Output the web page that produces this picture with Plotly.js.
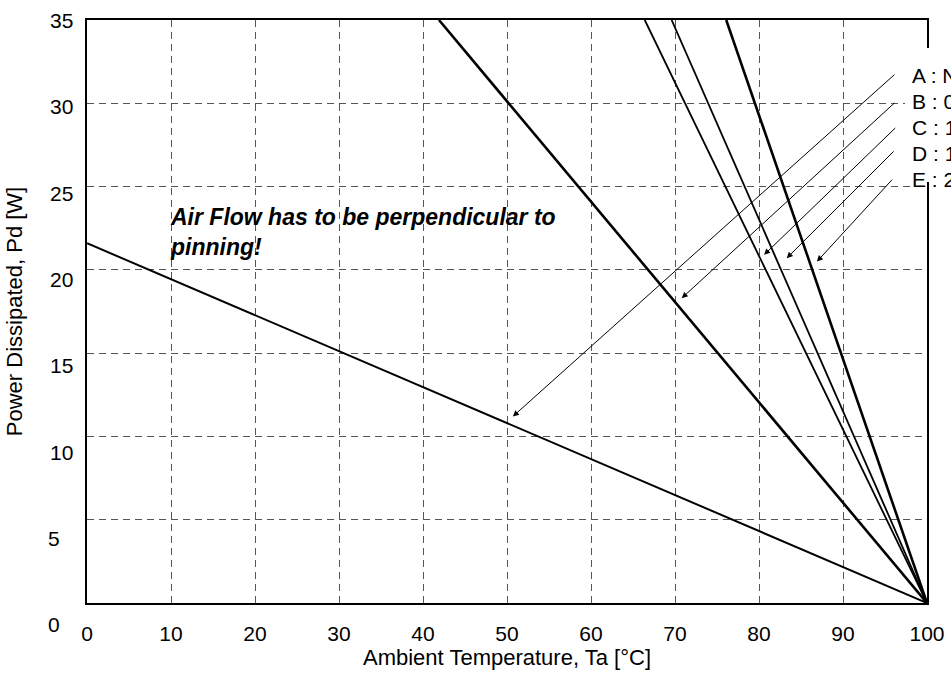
<!DOCTYPE html>
<html><head><meta charset="utf-8">
<script src="https://cdn.plot.ly/plotly-3.0.1.min.js"></script>
<style>body{margin:0;background:#fff}</style>
</head><body><div id="chart" style="width:951px;height:675px"></div>
<script>
// ---- data ----
const curveNames = ['A', 'B', 'C', 'D', 'E'];
const taA = [0, 100];    const pdA = [21.6, 0];
const taB = [41.9, 100]; const pdB = [35, 0];
const taC = [66.4, 100]; const pdC = [35, 0];
const taD = [69.6, 100]; const pdD = [35, 0];
const taE = [76.1, 100]; const pdE = [35, 0];
const legendLabels = ['A : N', 'B : 0', 'C : 1', 'D : 1', 'E : 2'];
const xTickValues = [0, 10, 20, 30, 40, 50, 60, 70, 80, 90, 100];
const yTickLabels = [0, 5, 10, 15, 20, 25, 30, 35];
const arrowHeadTa = [50.7, 70.8, 80.6, 83.3, 86.9];
const arrowHeadPd = [11.2, 18.3, 20.9, 20.7, 20.5];
const arrowTailTa = [96.3, 96.3, 96.4, 96.2, 96.0];
const arrowTailPd = [31.8, 30.1, 28.6, 27.2, 25.5];
const noteLines = ['Air Flow has to be perpendicular to', 'pinning!'];
const noteTa = 9.6, notePd = 22.3;

// ---- styling ----
const FONT = 'Liberation Sans, Arial, sans-serif';
const series = [[taA, pdA], [taB, pdB], [taC, pdC], [taD, pdD], [taE, pdE]];
const widths = [2, 2.6, 1.8, 1.8, 2.6];
const traces = series.map((s, i) => ({
  x: s[0], y: s[1], mode: 'lines', name: curveNames[i],
  line: {color: '#000', width: widths[i]}, hoverinfo: 'skip', cliponaxis: true
}));

const annotations = [];
// y tick labels (drawn slightly off-grid as in the reference)
yTickLabels.forEach(v => {
  annotations.push({
    xref: 'paper', yref: 'y', x: 0, y: v, xanchor: 'center', yanchor: 'middle',
    xshift: String(v).length === 1 ? -33 : -26,
    yshift: -(35 - v) * 0.614 - 0.5,
    text: String(v), showarrow: false, font: {family: FONT, size: 21, color: '#000'}
  });
});
// legend-like labels on the right
legendLabels.forEach((t, i) => {
  annotations.push({
    xref: 'paper', yref: 'paper', x: 1, y: 1, xanchor: 'left', yanchor: 'middle',
    xshift: -17, yshift: -55.5 - i * 26, text: t, showarrow: false,
    font: {family: FONT, size: 21, color: '#000'}
  });
});
// arrows
arrowHeadTa.forEach((h, i) => {
  annotations.push({
    xref: 'x', yref: 'y', axref: 'x', ayref: 'y',
    x: h, y: arrowHeadPd[i], ax: arrowTailTa[i], ay: arrowTailPd[i],
    text: '', showarrow: true, arrowhead: 2, arrowsize: 1.2, arrowwidth: 1,
    arrowcolor: '#000', standoff: 0, startstandoff: 0
  });
});
// note
annotations.push({
  xref: 'x', yref: 'y', x: noteTa, y: notePd, xanchor: 'left', yanchor: 'middle',
  align: 'left', text: noteLines.map(l => '<b><i>' + l + '</i></b>').join('<br>'),
  showarrow: false, font: {family: FONT, size: 23, color: '#000'}
});

const axisCommon = {
  showline: true, linecolor: '#000', linewidth: 2, mirror: true,
  showgrid: true, gridcolor: '#555', gridwidth: 1, griddash: '7px,5px',
  zeroline: false, ticks: '', fixedrange: true
};

const layout = {
  width: 951, height: 675,
  margin: {l: 87, r: 24, t: 20, b: 72},
  paper_bgcolor: '#fff', plot_bgcolor: '#fff',
  showlegend: false,
  font: {family: FONT, color: '#000'},
  xaxis: Object.assign({}, axisCommon, {
    range: [0, 100], tickvals: xTickValues,
    tickfont: {family: FONT, size: 21, color: '#000'},
    ticklabelstandoff: 11,
    title: {text: 'Ambient Temperature, Ta [°C]', font: {family: FONT, size: 22, color: '#000'}, standoff: 4}
  }),
  yaxis: Object.assign({}, axisCommon, {
    range: [0, 35], dtick: 5, tick0: 0, showticklabels: false,
    title: {text: 'Power Dissipated, Pd [W]', font: {family: FONT, size: 22, color: '#000'}, standoff: 56}
  }),
  shapes: [{
    type: 'rect', xref: 'paper', yref: 'paper', layer: 'above',
    x0: (905 - 87) / 840, x1: 1.05, y0: (603 - 182) / 583, y1: (603 - 48) / 583,
    fillcolor: '#fff', line: {width: 0}
  }],
  annotations: annotations
};

Plotly.newPlot('chart', traces, layout, {displayModeBar: false, staticPlot: true});
</script>
</body></html>
